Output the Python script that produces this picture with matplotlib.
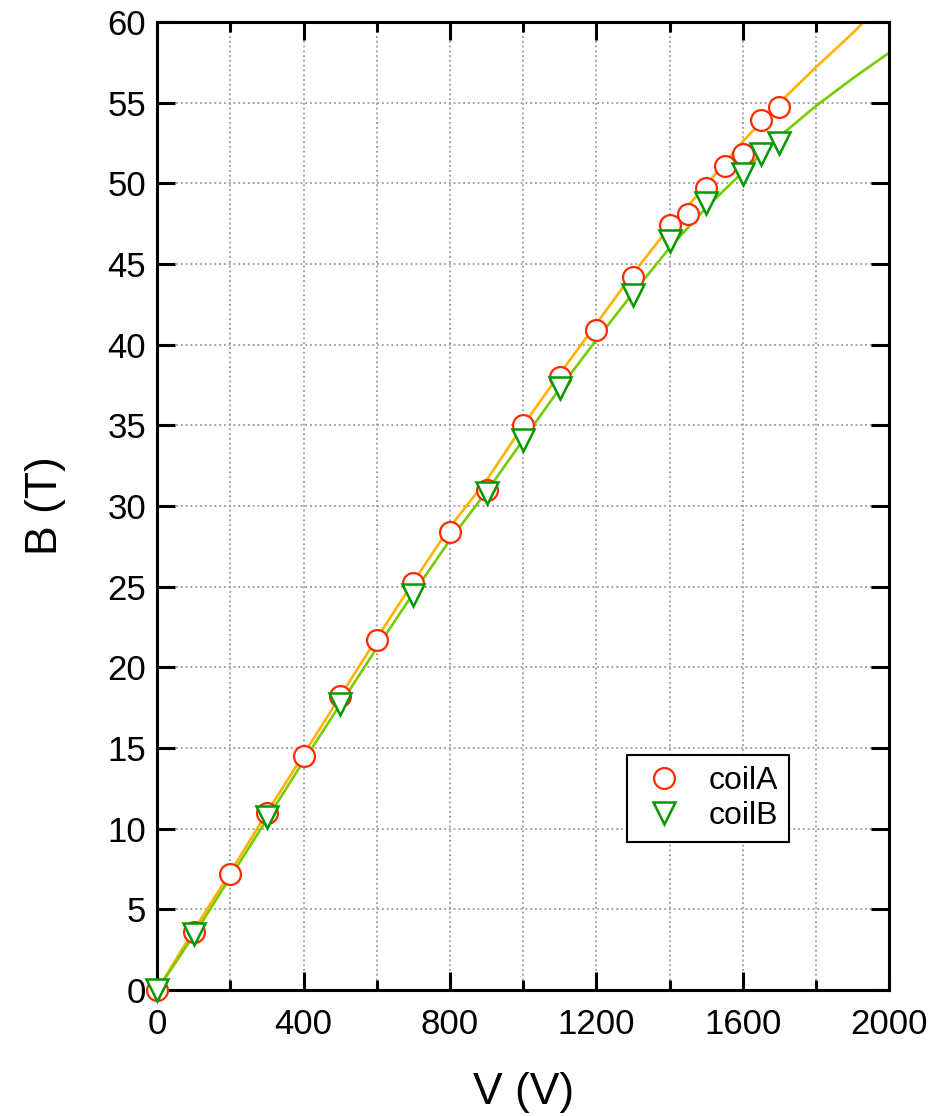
import numpy as np
import matplotlib
matplotlib.use("Agg")
import matplotlib.pyplot as plt
from matplotlib.ticker import MultipleLocator

plt.rcParams['font.family'] = ['Liberation Sans', 'DejaVu Sans']

# marker data
coilA_v = [0, 100, 200, 300, 400, 500, 600, 700, 800, 900, 1000, 1100, 1200,
           1300, 1400, 1450, 1500, 1550, 1600, 1650, 1700]
coilA_b = [0.0, 3.6, 7.2, 11.0, 14.5, 18.2, 21.7, 25.2, 28.4, 31.0, 35.0, 38.0, 40.9,
           44.2, 47.4, 48.1, 49.7, 51.1, 51.8, 53.9, 54.7]
coilB_v = [0, 100, 300, 500, 700, 900, 1000, 1100, 1300, 1400, 1500, 1600, 1650, 1700]
coilB_b = [0.0, 3.5, 10.7, 17.7, 24.5, 30.8, 34.1, 37.3, 43.1, 46.4, 48.8, 50.6, 51.8, 52.5]

# continuous traces
lineA_v = [0, 100, 200, 300, 400, 500, 600, 700, 800, 900, 1000, 1100, 1200,
           1300, 1400, 1500, 1600, 1700, 1800, 1900, 1930]
lineA_b = [0.0, 3.7, 7.3, 11.0, 14.6, 18.2, 21.8, 25.3, 28.7, 31.6, 35.0, 38.2, 41.3,
           44.4, 47.3, 49.9, 52.6, 55.0, 57.2, 59.3, 60.0]
lineB_v = [0, 100, 200, 300, 400, 500, 600, 700, 800, 900, 1000, 1100, 1200,
           1300, 1400, 1500, 1600, 1700, 1800, 1900, 2000]
lineB_b = [0.0, 3.4, 7.0, 10.6, 14.2, 17.7, 21.2, 24.6, 27.9, 30.9, 34.1, 37.3, 40.3,
           43.2, 46.0, 48.5, 50.7, 52.9, 54.8, 56.5, 58.1]

fig = plt.figure(figsize=(9.47, 11.16), dpi=100)
ax = fig.add_axes([0.166, 0.1129, 0.773, 0.8674])

ax.plot(lineA_v, lineA_b, color='#FFB300', lw=1.9, zorder=2)
ax.plot(lineB_v, lineB_b, color='#77CC00', lw=1.9, zorder=2)
ax.plot(coilA_v, coilA_b, 'o', ms=15, mfc='white', mec='#FF2A00', mew=1.6,
        label='coilA', zorder=3, clip_on=False)
ax.plot(coilB_v, coilB_b, 'v', ms=16, mfc='white', mec='#009900', mew=1.8,
        label='coilB', zorder=4, clip_on=False)

ax.set_xlim(0, 2000)
ax.set_ylim(0, 60)
ax.xaxis.set_major_locator(MultipleLocator(400))
ax.xaxis.set_minor_locator(MultipleLocator(200))
ax.yaxis.set_major_locator(MultipleLocator(5))

ax.grid(True, which='both', color='#999999', ls=':', lw=1.3)
ax.tick_params(which='both', direction='in', top=True, right=True,
               width=2.2, labelsize=25)
ax.tick_params(axis='x', pad=13)
ax.tick_params(axis='y', pad=8)
ax.tick_params(which='major', length=13)
ax.tick_params(which='minor', length=7)
for s in ax.spines.values():
    s.set_linewidth(2.2)

ax.set_xlabel('V (V)', fontsize=32, labelpad=22)
ax.set_ylabel('B (T)', fontsize=32, labelpad=30)

leg = ax.legend(loc='center', bbox_to_anchor=(0.753, 0.198), fontsize=23,
                fancybox=False, framealpha=1, edgecolor='black',
                handletextpad=0.6, borderpad=0.35, labelspacing=0.15,
                handlelength=1.6, borderaxespad=0)
leg.get_frame().set_linewidth(1.5)

fig.savefig('out.png', dpi=100)
